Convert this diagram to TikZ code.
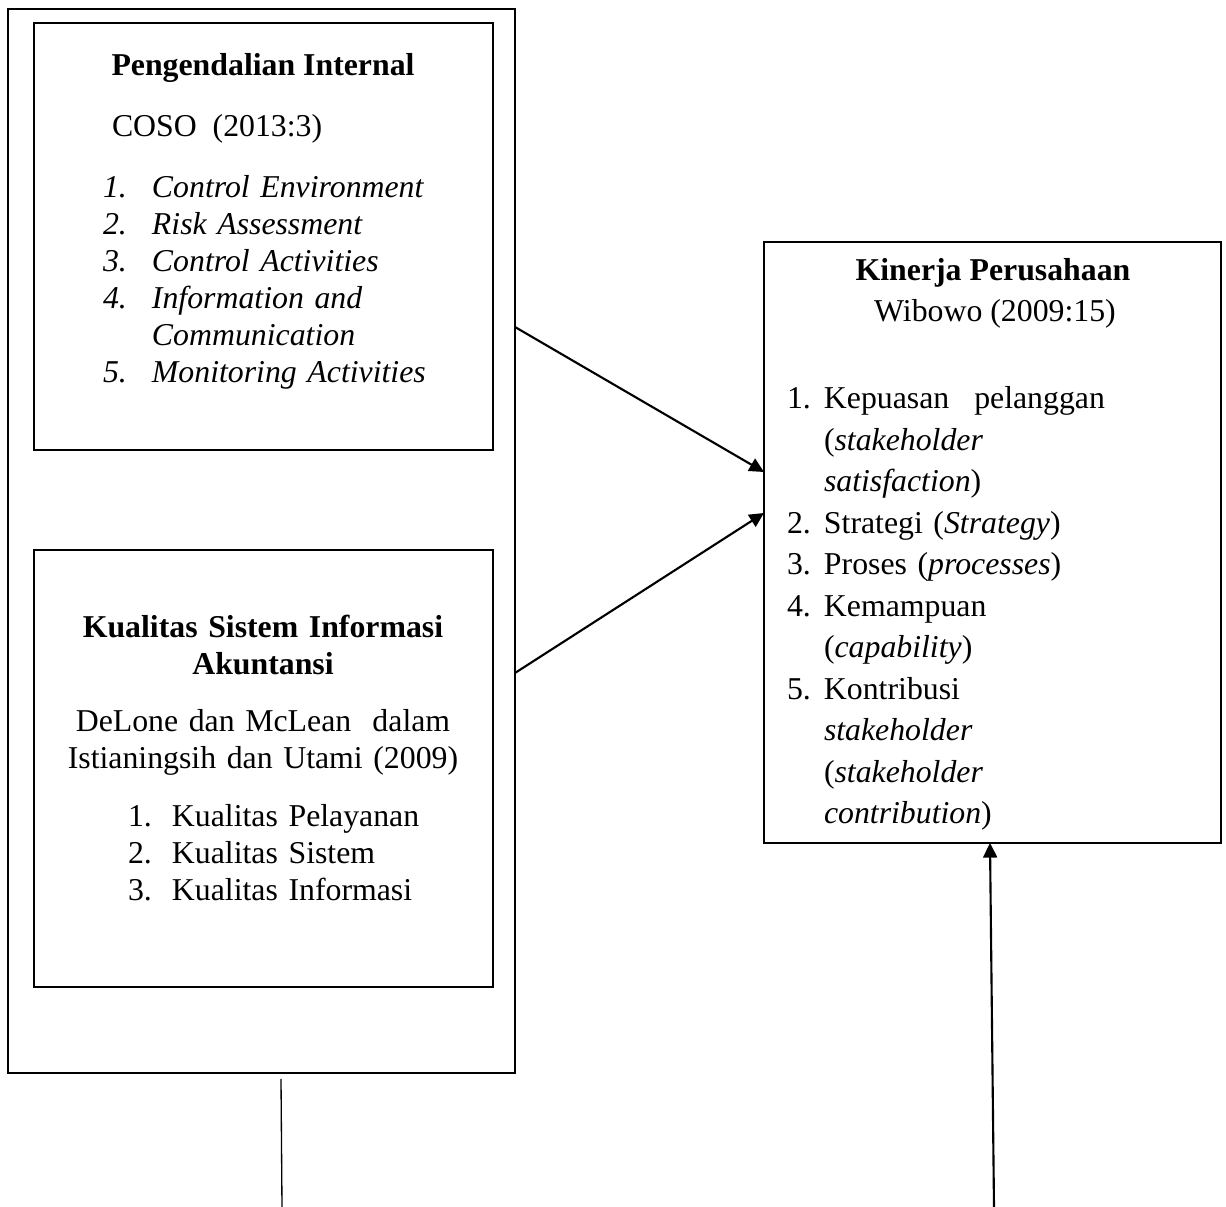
\documentclass[tikz,border=0pt]{standalone}
\usepackage{fontspec}
\setmainfont{Liberation Serif}
\usetikzlibrary{arrows.meta}
\newlength\pxu
\setlength\pxu{0.3774pt}
\begin{document}
\begin{tikzpicture}[x=0.3774pt,y=-0.3774pt,>={Triangle[length=5.5pt,width=5.3pt]},
  box/.style={draw,line width=0.95pt,inner sep=0pt,outer sep=0pt,anchor=north west},
  txt/.style={inner sep=0pt,outer sep=0pt,font=\fontsize{12}{13.9}\selectfont},
  rtxt/.style={inner sep=0pt,outer sep=0pt,font=\fontsize{12}{15.66}\selectfont},
  arr/.style={->,line width=0.8pt}]

  \useasboundingbox (0,0) rectangle (1226,1207);

  % Boxes
  \node[box,minimum width=507\pxu,minimum height=1064\pxu] (outer) at (8,9) {};
  \node[box,minimum width=459\pxu,minimum height=427\pxu] (pibox) at (34,23) {};
  \node[box,minimum width=459\pxu,minimum height=437\pxu] (ksbox) at (34,550) {};
  \node[box,minimum width=457\pxu,minimum height=601\pxu] (kpbox) at (764,242) {};

  % Pengendalian Internal
  \node[txt,anchor=base] (pititle) at (263,76) {\textbf{Pengendalian Internal}};
  \node[txt,anchor=base west] (picoso) at (112,137) {COSO\ \ (2013:3)};
  \node[txt,anchor=base west,text width=380\pxu,align=left] (pilist) at (103,198) {%
    \makebox[49\pxu][l]{\textit{1.}}\textit{Control Environment}\\
    \makebox[49\pxu][l]{\textit{2.}}\textit{Risk Assessment}\\
    \makebox[49\pxu][l]{\textit{3.}}\textit{Control Activities}\\
    \makebox[49\pxu][l]{\textit{4.}}\textit{Information and}\\
    \hspace*{49\pxu}\textit{Communication}\\
    \makebox[49\pxu][l]{\textit{5.}}\textit{Monitoring Activities}};

  % Kualitas Sistem Informasi Akuntansi
  \node[txt,anchor=base,text width=440\pxu,align=center] (kstitle) at (263,638)
    {\textbf{Kualitas Sistem Informasi}\\\textbf{Akuntansi}};
  \node[txt,anchor=base,text width=440\pxu,align=center] (ksref) at (263,732)
    {DeLone dan McLean\ \ dalam\\Istianingsih dan Utami (2009)};
  \node[txt,anchor=base west,text width=340\pxu,align=left] (kslist) at (128,827) {%
    \makebox[44\pxu][l]{1.}Kualitas Pelayanan\\
    \makebox[44\pxu][l]{2.}Kualitas Sistem\\
    \makebox[44\pxu][l]{3.}Kualitas Informasi};

  % Kinerja Perusahaan
  \node[rtxt,anchor=base] (kptitle) at (993,281) {\textbf{Kinerja Perusahaan}};
  \node[rtxt,anchor=base] (kpref) at (995,322) {Wibowo (2009:15)};
  \node[rtxt,anchor=base west,text width=420\pxu,align=left] (kplist) at (787,409) {%
    \makebox[37\pxu][l]{1.}Kepuasan\hspace{9.4pt}pelanggan\\
    \hspace*{37\pxu}(\textit{stakeholder}\\
    \hspace*{37\pxu}\textit{satisfaction})\\
    \makebox[37\pxu][l]{2.}Strategi (\textit{Strategy})\\
    \makebox[37\pxu][l]{3.}Proses (\textit{processes})\\
    \makebox[37\pxu][l]{4.}Kemampuan\\
    \hspace*{37\pxu}(\textit{capability})\\
    \makebox[37\pxu][l]{5.}Kontribusi\\
    \hspace*{37\pxu}\textit{stakeholder}\\
    \hspace*{37\pxu}(\textit{stakeholder}\\
    \hspace*{37\pxu}\textit{contribution})};

  % Connectors
  \coordinate (kpin) at (994,1207);
  \coordinate (ltop) at (281,1079);
  \coordinate (lbot) at (282,1207);
  \draw[arr] (outer.east |- 0,327) -- (kpbox.west |- 0,472);
  \draw[arr] (outer.east |- 0,673) -- (kpbox.west |- 0,513);
  \draw[arr] (kpin) -- (kpbox.south -| 990,0);
  \draw[line width=0.5pt] (ltop) -- (lbot);

\end{tikzpicture}
\end{document}
